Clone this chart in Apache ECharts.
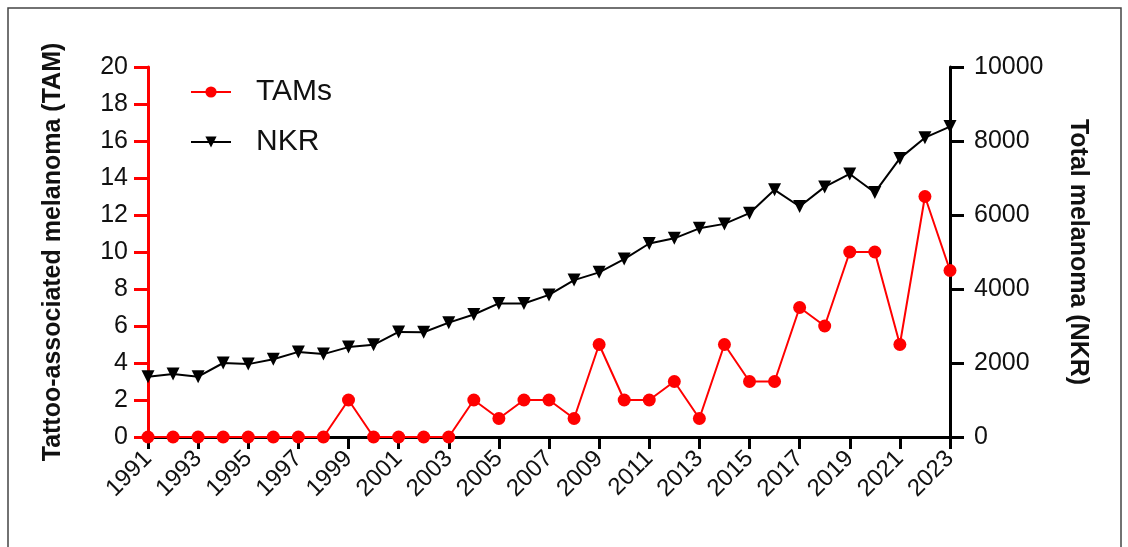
<!DOCTYPE html>
<html>
<head>
<meta charset="utf-8">
<script src="https://cdn.jsdelivr.net/npm/echarts@6/dist/echarts.min.js"></script>
<style>
  html, body { margin: 0; padding: 0; background: #fff; }
  #chart { width: 1128px; height: 547px; }
</style>
</head>
<body>
<div id="chart"></div>
<script>
// years 1991..2023
const years = ['1991','1992','1993','1994','1995','1996','1997','1998','1999','2000',
  '2001','2002','2003','2004','2005','2006','2007','2008','2009','2010',
  '2011','2012','2013','2014','2015','2016','2017','2018','2019','2020',
  '2021','2022','2023'];
// tattoo-associated melanoma (left axis)
const tams = [0,0,0,0,0,0,0,0,2,0,
  0,0,0,2,1,2,2,1,5,2,
  2,3,1,5,3,3,7,6,10,10,
  5,13,9];
// total melanoma NKR (right axis)
const nkr = [1630,1700,1630,2000,1970,2100,2300,2240,2430,2490,
  2840,2830,3090,3310,3610,3610,3840,4240,4450,4810,
  5230,5370,5640,5760,6050,6680,6230,6760,7110,6610,
  7530,8090,8390];
const leftTicks = { min: 0, max: 20, interval: 2 };
const rightTicks = { min: 0, max: 10000, interval: 2000 };

const font = 'Liberation Sans, Arial, sans-serif';
const chart = echarts.init(document.getElementById('chart'));

chart.setOption({
  animation: false,
  textStyle: { fontFamily: font },
  graphic: [{
    type: 'rect',
    shape: { x: 8, y: 8, width: 1113, height: 600 },
    style: { fill: 'transparent', stroke: '#444', lineWidth: 1.5 },
    z: -1
  }],
  grid: { left: 148, right: 178, top: 67, bottom: 110 },
  legend: {
    orient: 'vertical',
    left: 185,
    top: 72,
    itemWidth: 40,
    itemHeight: 14,
    itemGap: 20,
    textStyle: { fontSize: 30, color: '#111', fontFamily: font, lineHeight: 30, padding: [0, 0, 0, 20] },
    data: ['TAMs', 'NKR']
  },
  xAxis: {
    type: 'category',
    data: years,
    boundaryGap: false,
    axisLine: { lineStyle: { color: '#000', width: 3 } },
    axisTick: { interval: 1, length: 12, lineStyle: { color: '#000', width: 3 } },
    axisLabel: { interval: 1, rotate: 45, fontSize: 24, color: '#111', margin: 18 }
  },
  yAxis: [{
    type: 'value',
    position: 'left',
    min: leftTicks.min, max: leftTicks.max, interval: leftTicks.interval,
    name: 'Tattoo-associated melanoma (TAM)',
    nameLocation: 'middle',
    nameGap: 82,
    nameTextStyle: { fontSize: 25, fontWeight: 'bold', color: '#111' },
    axisLine: { show: true, lineStyle: { color: '#ff0000', width: 3 } },
    axisTick: { show: true, length: 14, lineStyle: { color: '#ff0000', width: 3 } },
    axisLabel: { fontSize: 25, color: '#111', margin: 20 },
    splitLine: { show: false }
  }, {
    type: 'value',
    position: 'right',
    min: rightTicks.min, max: rightTicks.max, interval: rightTicks.interval,
    name: 'Total melanoma (NKR)',
    nameLocation: 'middle',
    nameGap: 115,
    nameRotate: -90,
    nameTextStyle: { fontSize: 25, fontWeight: 'bold', color: '#111' },
    axisLine: { show: true, lineStyle: { color: '#000', width: 3 } },
    axisTick: { show: true, length: 14, lineStyle: { color: '#000', width: 3 } },
    axisLabel: { fontSize: 25, color: '#111', margin: 24, formatter: (v) => String(v) },
    splitLine: { show: false }
  }],
  series: [{
    name: 'NKR',
    type: 'line',
    yAxisIndex: 1,
    data: nkr,
    symbol: 'triangle',
    symbolRotate: 180,
    symbolSize: 13,
    itemStyle: { color: '#000' },
    lineStyle: { color: '#000', width: 2 },
    z: 3
  }, {
    name: 'TAMs',
    type: 'line',
    yAxisIndex: 0,
    data: tams,
    symbol: 'circle',
    symbolSize: 13,
    itemStyle: { color: '#ff0000' },
    lineStyle: { color: '#ff0000', width: 2 },
    z: 4
  }]
});
</script>
</body>
</html>
